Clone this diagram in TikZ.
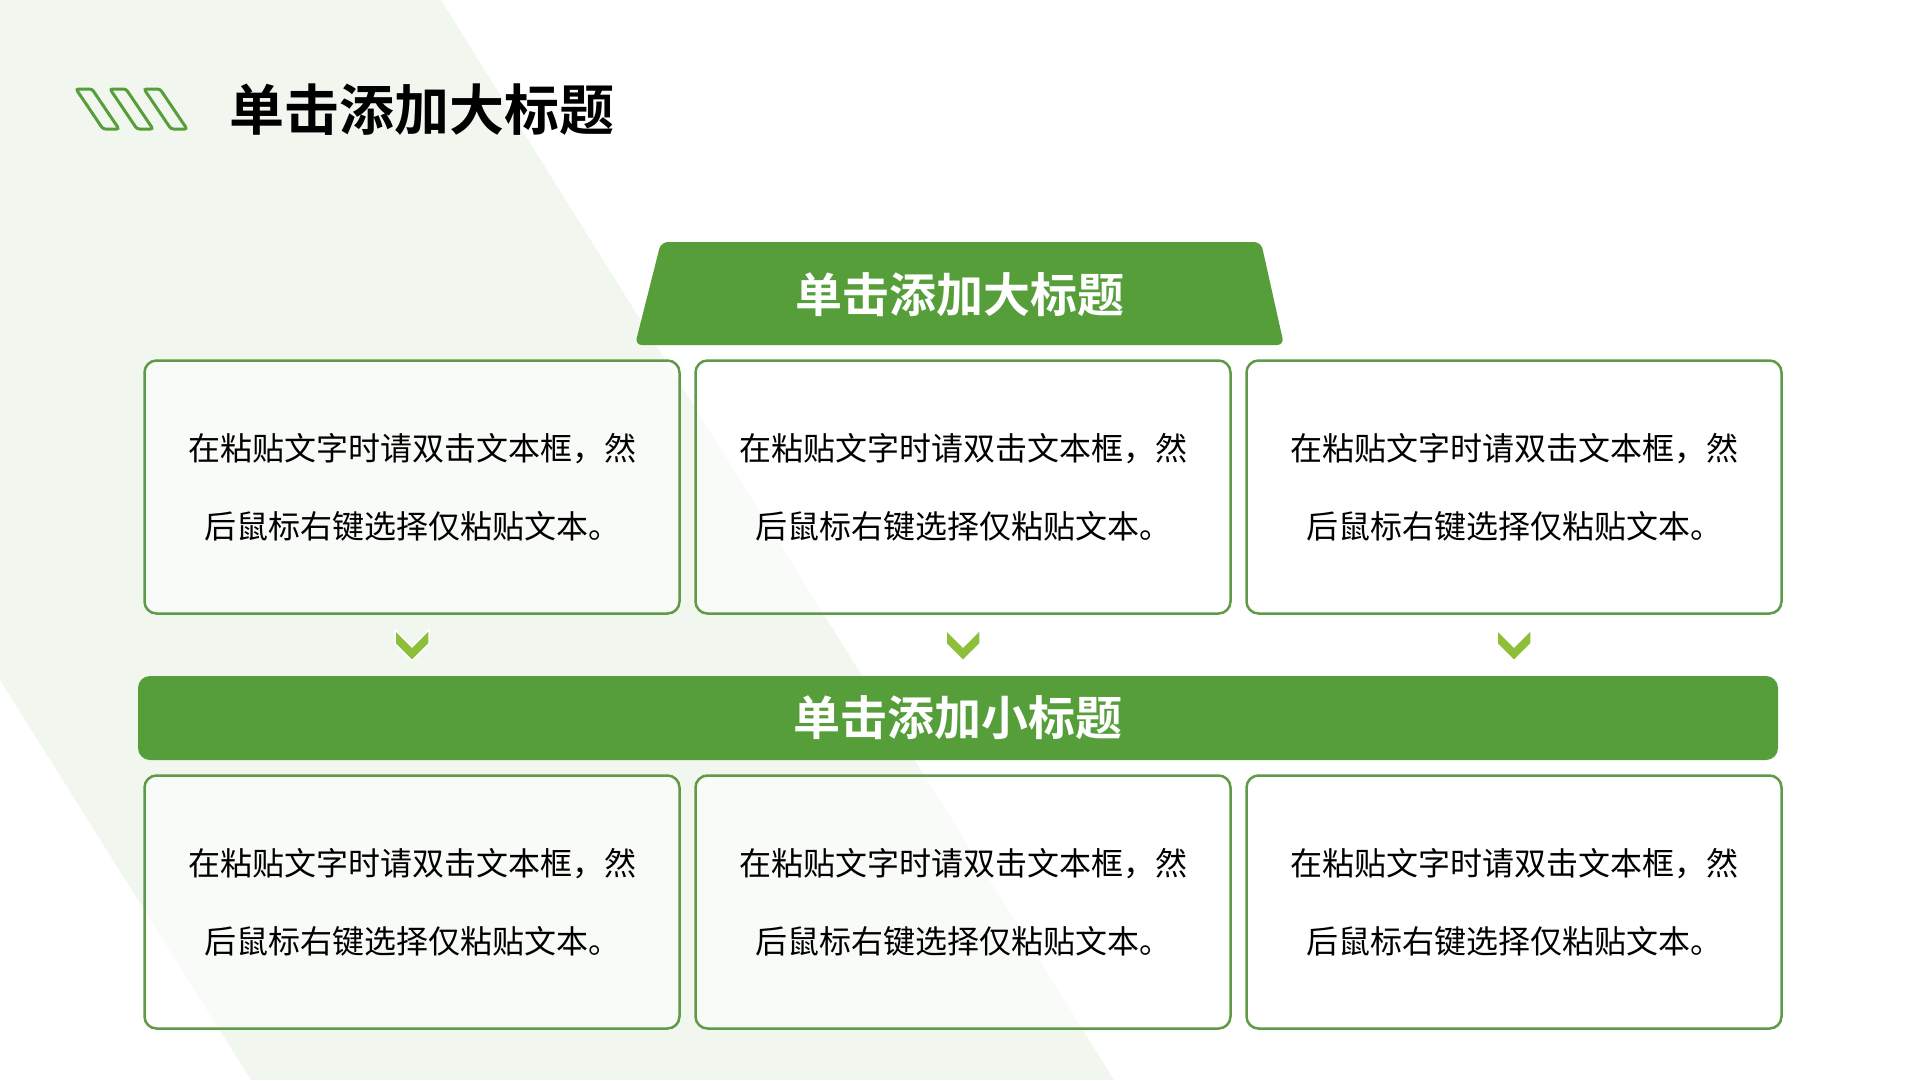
\documentclass[tikz,border=0pt]{standalone}
\usepackage{fontspec}
\setmainfont{Noto Sans CJK SC}[BoldFont={Noto Sans CJK SC Bold}]
\usetikzlibrary{positioning}
\definecolor{leafGreen}{HTML}{559E3A}
\definecolor{edgeGreen}{HTML}{5E9A47}
\definecolor{arrowGreen}{HTML}{8DBF3B}
\definecolor{paleGround}{HTML}{F1F7EF}

\begin{document}
\begin{tikzpicture}
[x=1pt,y=-1pt,
textBox/.style={draw=edgeGreen,line width=2.5pt,rounded corners=12pt,fill=white,fill opacity=0.55,text opacity=1,minimum width=535pt,minimum height=253pt,align=center,font=\fontsize{32}{78}\selectfont},
bannerBox/.style={fill=leafGreen,rounded corners=12pt,text=white,font=\fontsize{47}{50}\selectfont\bfseries},
chevron/.style={fill=arrowGreen,draw=white,line width=1.5pt,line join=miter}]

%% background
\useasboundingbox (0,0) rectangle (1920,1080);
\fill[white] (0,0) rectangle (1920,1080);
\fill[paleGround] (0,0) -- (441,0) -- (1114,1080) -- (251,1080) -- (0,680) -- cycle;

%% heading with stripes
\foreach \i in {0,1,2}
{
\draw[leafGreen,line width=3pt,rounded corners=2.5pt] (76+34*\i,89) -- (92+34*\i,89) -- (119+34*\i,129) -- (103+34*\i,129) -- cycle;
}
\node (title) [anchor=west,inner sep=0pt,font=\fontsize{55}{60}\selectfont\bfseries] at (229,110) {单击添加大标题};

%% top banner
\fill[leafGreen,rounded corners=7pt] (661,242) -- (1261,242) -- (1284,345) -- (635,345) -- cycle;
\node (head) [text=white,inner sep=0pt,font=\fontsize{47}{50}\selectfont\bfseries] at (959.5,295) {单击添加大标题};

%% middle bar
\node (bar) [bannerBox,minimum width=1640pt,minimum height=84pt] at (958,718) {单击添加小标题};

%% text boxes
\foreach \name/\x/\y in {a/412/487, b/963/487, c/1514/487, d/412/902, e/963/902, f/1514/902}
{
\node (\name) [textBox] at (\x,\y) {在粘贴文字时请双击文本框，然\\后鼠标右键选择仅粘贴文本。};
}

%% chevrons
\foreach \name in {a,b,c}
{
\draw[chevron] ([shift={(-17,15)}]\name.south) -- ++(17,17) -- ++(17,-17) -- ++(0,14) -- ++(-17,17) -- ++(-17,-17) -- cycle;
}

\end{tikzpicture}
\end{document}
